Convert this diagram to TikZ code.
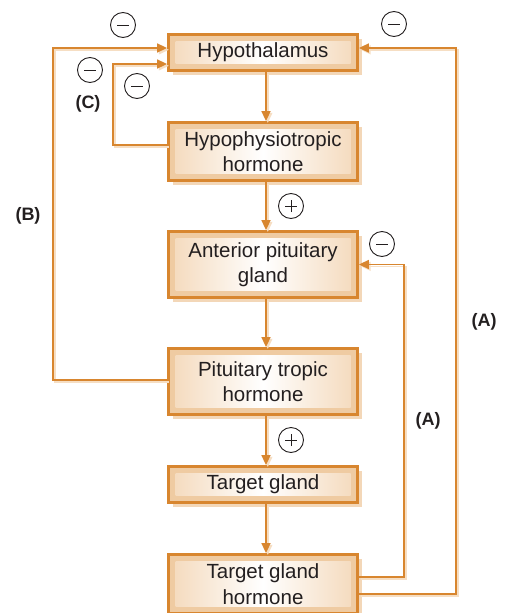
\documentclass[tikz,border=0pt]{standalone}
\usepackage{fontspec}
\setmainfont{Liberation Sans}
\usetikzlibrary{arrows.meta,shadows}

\definecolor{rim}{HTML}{D8862F}
\definecolor{band}{HTML}{EFCBA2}
\definecolor{glow}{HTML}{F4D9BB}
\definecolor{boxshade}{HTML}{F3D7B8}
\definecolor{lineshade}{HTML}{F6DEC3}
\definecolor{ink}{HTML}{231F20}

\tikzset{
  stagebox/.style={
    draw=rim, line width=2.8pt, fill=band,
    minimum width=189pt, inner sep=0pt, align=center,
    text=ink, font=\fontsize{20.5}{25.5}\selectfont,
    general shadow={fill=boxshade, shadow xshift=4pt, shadow yshift=-4pt},
    path picture={
      \fill[left color=glow, right color=glow, middle color=white]
        ([shift={(7pt,-7pt)}]path picture bounding box.north west)
        rectangle ([shift={(-7pt,7pt)}]path picture bounding box.south east);
    }},
  link/.style={draw=rim, line width=1.6pt, -{Triangle[length=10pt,width=9pt]}},
  linkshade/.style={draw=lineshade, line width=1.6pt, -{Triangle[length=10pt,width=9pt]}},
  sign/.style={circle, draw=ink, line width=0.9pt, minimum size=25pt, inner sep=0pt},
  minus/.style={sign, path picture={
      \draw[ink, line width=0.9pt]
        ([xshift=-6pt]path picture bounding box.center) --
        ([xshift=6pt]path picture bounding box.center);}},
  plus/.style={sign, path picture={
      \draw[ink, line width=0.9pt]
        ([xshift=-6pt]path picture bounding box.center) --
        ([xshift=6pt]path picture bounding box.center)
        ([yshift=-6pt]path picture bounding box.center) --
        ([yshift=6pt]path picture bounding box.center);}},
  tag/.style={text=ink, font=\fontsize{18}{20}\selectfont\bfseries}
}

% every connector of the loop, drawn in the given style
\newcommand\loopconnectors[1]{%
  \draw[#1] ([xshift=3pt]hyp.south) -- ([xshift=3pt]hpt.north);
  \draw[#1] ([xshift=3pt]hpt.south) -- ([xshift=3pt]ap.north);
  \draw[#1] ([xshift=3pt]ap.south) -- ([xshift=3pt]pt.north);
  \draw[#1] ([xshift=3pt]pt.south) -- ([xshift=3pt]tg.north);
  \draw[#1] ([xshift=3pt]tg.south) -- ([xshift=3pt]tgh.north);
  % long loop (B)
  \draw[#1] (pt.west |- bstart) -| (bturn) -- (hyp.west |- bturn);
  % short loop (C)
  \draw[#1] ([yshift=6.5pt]hpt.west) -| (cturn) -- (hyp.west |- cturn);
  % long loops (A)
  \draw[#1] (tgh.east |- aina) -- (aina) |- (ap.east);
  \draw[#1] (tgh.east |- aoutb) -- (aoutb) |- ([yshift=4.5pt]hyp.east);
}

\begin{document}
\begin{tikzpicture}[x=1pt,y=-1pt]
\useasboundingbox (0,0) rectangle (504,613);
\clip (0,0) rectangle (504,613);

\node[stagebox, minimum height=36pt] (hyp) at (263,52.5) {Hypothalamus};
\node[stagebox, minimum height=58pt] (hpt) at (263,151.5) {Hypophysiotropic\\hormone};
\node[stagebox, minimum height=66pt] (ap)  at (263,264.5) {Anterior pituitary\\gland};
\node[stagebox, minimum height=66pt] (pt)  at (263,381.5) {Pituitary tropic\\hormone};
\node[stagebox, minimum height=36pt] (tg)  at (263,484.5) {Target gland};
\node[stagebox, minimum height=59pt] (tgh) at (263,584) {Target gland\\hormone};

\coordinate (bstart) at (0,380);
\coordinate (bturn) at (53,48);
\coordinate (cturn) at (113,64);
\coordinate (aina)  at (404,577);
\coordinate (aoutb) at (456,594);

\begin{scope}[transform canvas={shift={(1.8pt,-1.8pt)}}]
  \loopconnectors{linkshade}
\end{scope}
\loopconnectors{link}

\node[minus] (m1) at (123,25) {};
\node[minus] (m2) at (394,24) {};
\node[minus] (m3) at (90,70) {};
\node[minus] (m4) at (137,86) {};
\node[minus] (m5) at (382,244) {};
\node[plus]  (p1) at (291,206) {};
\node[plus]  (p2) at (291,440) {};

\node[tag] (lc)  at (88,104)  {(C)};
\node[tag] (lb)  at (28,216)  {(B)};
\node[tag] (la1) at (484,322) {(A)};
\node[tag] (la2) at (428,421) {(A)};
\end{tikzpicture}
\end{document}
